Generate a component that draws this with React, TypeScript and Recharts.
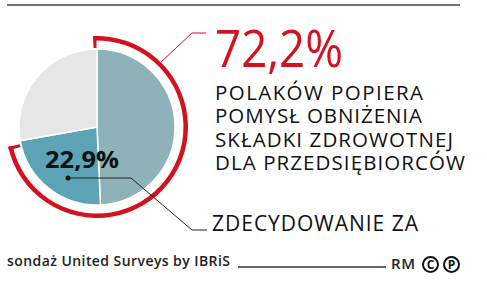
import React from 'react';
import { PieChart, Pie, Cell } from 'recharts';

// survey: support for lowering the health contribution for entrepreneurs
const segments = ['Raczej za', 'Zdecydowanie za', 'Pozostali'];
const shares = [49.3, 22.9, 27.8];
const supportTotal = 72.2;

const headline = '72,2%';
const captionLines = ['POLAKÓW POPIERA', 'POMYSŁ OBNIŻENIA', 'SKŁADKI ZDROWOTNEJ', 'DLA PRZEDSIĘBIORCÓW'];
const innerLabel = '22,9%';
const calloutLabel = 'ZDECYDOWANIE ZA';
const sourceText = 'sondaż United Surveys by IBRiS';
const creditText = 'RM';

const RED = '#d4111e';
const sliceColors = ['#8fb2b9', '#5ba3b5', '#e6e6e6'];
const FONT = '"Open Sans", "Noto Sans", sans-serif';
const captionWidths = [208, 207, 238, 250];

const CX = 97;
const CY = 127;

export default function App() {
    const pieData = segments.map((name, i) => ({ name, value: shares[i] }));
    const ringData = [
        { name: 'za', value: supportTotal },
        { name: 'reszta', value: 100 - supportTotal },
    ];
    const tick = 0.6;
    const tickData = [
        { name: 't1', value: tick },
        { name: 'gap', value: supportTotal - 2 * tick },
        { name: 't2', value: tick },
        { name: 'reszta', value: 100 - supportTotal },
    ];

    return (
        <div style={{ position: 'absolute', left: 0, top: 0, width: 487, height: 285, background: '#fff', fontFamily: FONT }}>
            <PieChart width={487} height={285} margin={{ top: 0, right: 0, bottom: 0, left: 0 }}>
                <Pie
                    data={pieData}
                    dataKey="value"
                    cx={CX}
                    cy={CY}
                    innerRadius={0}
                    outerRadius={78}
                    startAngle={90}
                    endAngle={-270}
                    stroke="#fff"
                    strokeWidth={1.5}
                    isAnimationActive={false}
                >
                    {pieData.map((d, i) => (
                        <Cell key={d.name} fill={sliceColors[i]} />
                    ))}
                </Pie>
                <Pie
                    data={ringData}
                    dataKey="value"
                    cx={CX}
                    cy={CY}
                    innerRadius={86.5}
                    outerRadius={91}
                    startAngle={92.5}
                    endAngle={-267.5}
                    stroke="none"
                    isAnimationActive={false}
                >
                    <Cell fill={RED} />
                    <Cell fill="none" />
                </Pie>
                <Pie
                    data={tickData}
                    dataKey="value"
                    cx={CX}
                    cy={CY}
                    innerRadius={79}
                    outerRadius={91}
                    startAngle={92.5}
                    endAngle={-267.5}
                    stroke="none"
                    isAnimationActive={false}
                >
                    <Cell fill={RED} />
                    <Cell fill="none" />
                    <Cell fill={RED} />
                    <Cell fill="none" />
                </Pie>
            </PieChart>

            <svg width={487} height={285} style={{ position: 'absolute', left: 0, top: 0, pointerEvents: 'none' }}>
                <line x1={7} x2={460} y1={5} y2={5} stroke="#444" strokeWidth={1.5} />

                {/* red callout to the headline */}
                <polyline points="160,63 192,33 206,33" fill="none" stroke={RED} strokeWidth={1} />
                <text x={215} y={67} fontSize={52} fill={RED} textLength={128} lengthAdjust="spacingAndGlyphs">
                    {headline}
                </text>
                {captionLines.map((line, i) => (
                    <text key={line} x={215} y={99.5 + i * 23.5} fontSize={20.5} fill="#111" textLength={captionWidths[i]}>
                        {line}
                    </text>
                ))}

                {/* inner label and black callout */}
                <text x={45} y={168} fontSize={24} fontWeight={700} fill="#111" textLength={74} lengthAdjust="spacingAndGlyphs">
                    {innerLabel}
                </text>
                <circle cx={68} cy={178} r={2.5} fill="#111" />
                <polyline points="68,178 131,178 192,230 207,230" fill="none" stroke="#222" strokeWidth={1} />
                <text x={212} y={231} fontSize={21} fill="#111" textLength={206}>
                    {calloutLabel}
                </text>

                {/* footer */}
                <text x={7} y={266} fontSize={14} fontWeight={600} fill="#222" textLength={223}>
                    {sourceText}
                </text>
                <line x1={238} x2={386} y1={267} y2={267} stroke="#333" strokeWidth={1.5} />
                <text x={391} y={269} fontSize={15} fontWeight={600} fill="#222" textLength={24}>
                    {creditText}
                </text>
                <circle cx={430.5} cy={264.5} r={7.5} fill="none" stroke="#111" strokeWidth={2} />
                <text x={430.5} y={268.8} fontSize={12} fontWeight={700} fill="#111" textAnchor="middle">C</text>
                <circle cx={451.5} cy={264.5} r={7.5} fill="none" stroke="#111" strokeWidth={2} />
                <text x={451.5} y={268.8} fontSize={12} fontWeight={700} fill="#111" textAnchor="middle">P</text>
            </svg>
        </div>
    );
}
